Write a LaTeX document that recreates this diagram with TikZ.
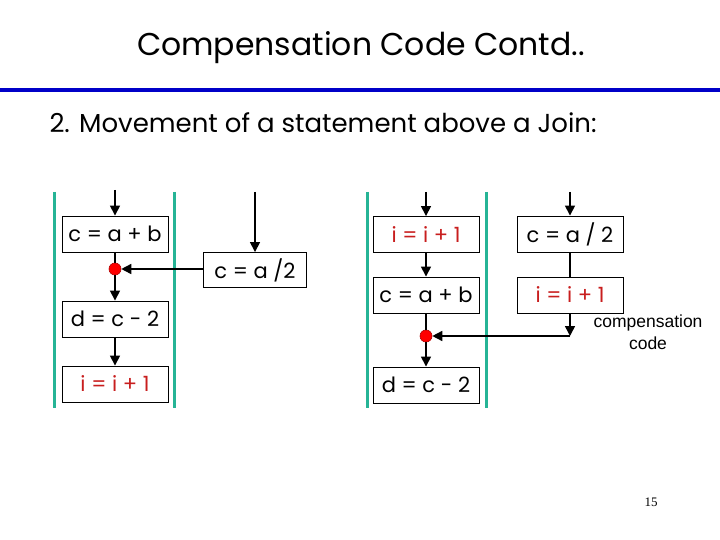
\documentclass[tikz,border=0pt]{standalone}
\usepackage{fontspec}
\setmainfont{Poppins}
\newfontfamily\notefont{Liberation Sans}
\newfontfamily\numfont{Liberation Serif}
\usepackage{xcolor}
\usetikzlibrary{arrows.meta, positioning}
\definecolor{barteal}{RGB}{38,180,150}
\definecolor{rulblue}{RGB}{0,0,200}
\definecolor{stmred}{RGB}{200,30,30}

\begin{document}
\begin{tikzpicture}[x=1pt, y=-1pt,
  stmt/.style={draw=black, line width=0.9pt, minimum width=106pt, minimum height=36pt, inner sep=0pt, font=\fontsize{21}{21}\selectfont},
  joindot/.style={circle, fill=red, draw=red!70!black, line width=0.6pt, minimum size=12pt, inner sep=0pt},
  arr/.style={-{Triangle[length=10pt, width=10pt]}, line width=1.6pt},
  flow/.style={line width=1.6pt},
  bar/.style={barteal, line width=3pt}
]
  \useasboundingbox (0,0) rectangle (720,540);
  % Heading and the rule under it
  \node (title) at (361,48) {\fontsize{31.5}{31.5}\selectfont Compensation Code Contd..};
  \draw[rulblue, line width=4pt] (0,90) -- (720,90);
  \node[anchor=west] (sub) at (46,123) {\fontsize{26}{26}\selectfont 2. Movement of a statement above a Join:};

  % Before the move: the join with c = a/2 on the side
  \draw[bar] (54,192) -- (54,408);
  \draw[bar] (174,192) -- (174,408);
  \node[stmt] (L1) at (115,234) {c = a + b};
  \node[joindot] (Ld) at (115,269) {};
  \node[stmt] (L2) at (115,319) {d = c - 2};
  \node[stmt, text=stmred] (L3) at (115,384) {i = i + 1};
  \node[stmt, minimum width=103pt, minimum height=35pt] (M) at (255,270) {c = a /2};
  \coordinate (Ltop) at (115,190);
  \coordinate (Mtop) at (255,192);
  \draw[arr] (Ltop) -- (L1);
  \draw[flow] (L1) -- (Ld);
  \draw[arr] (Ld) -- (L2);
  \draw[arr] (L2) -- (L3);
  \draw[arr] (Mtop) -- (M);
  \draw[arr] (M.west |- Ld) -- (Ld);

  % After the move: i = i + 1 copied as compensation code
  \draw[bar] (367,192) -- (367,408);
  \draw[bar] (486,192) -- (486,408);
  \node[stmt, text=stmred] (R1) at (426,234.5) {i = i + 1};
  \node[stmt] (R2) at (426,295) {c = a + b};
  \node[joindot] (Rd) at (426,336) {};
  \node[stmt] (R3) at (426,385) {d = c - 2};
  \node[stmt] (S1) at (570,234) {c = a / 2};
  \node[stmt, text=stmred] (S2) at (570,295) {i = i + 1};
  \coordinate (Rtop) at (426,192);
  \coordinate (Stop) at (570,192);
  \coordinate (Scorner) at (570,336);
  \draw[arr] (Rtop) -- (R1);
  \draw[arr] (R1) -- (R2);
  \draw[flow] (R2) -- (Rd);
  \draw[arr] (Rd) -- (R3);
  \draw[arr] (Stop) -- (S1);
  \draw[flow] (S1) -- (S2);
  \draw[arr] (S2) -- (Scorner);
  \draw[arr] (Scorner) -- (Rd);
  \node[align=center, font=\notefont\fontsize{17.5}{22}\selectfont] (comp) at (648,332) {compensation\\code};

  % Slide number
  \node[font=\numfont\fontsize{13}{13}\selectfont] (pg) at (651,502) {15};
\end{tikzpicture}
\end{document}
